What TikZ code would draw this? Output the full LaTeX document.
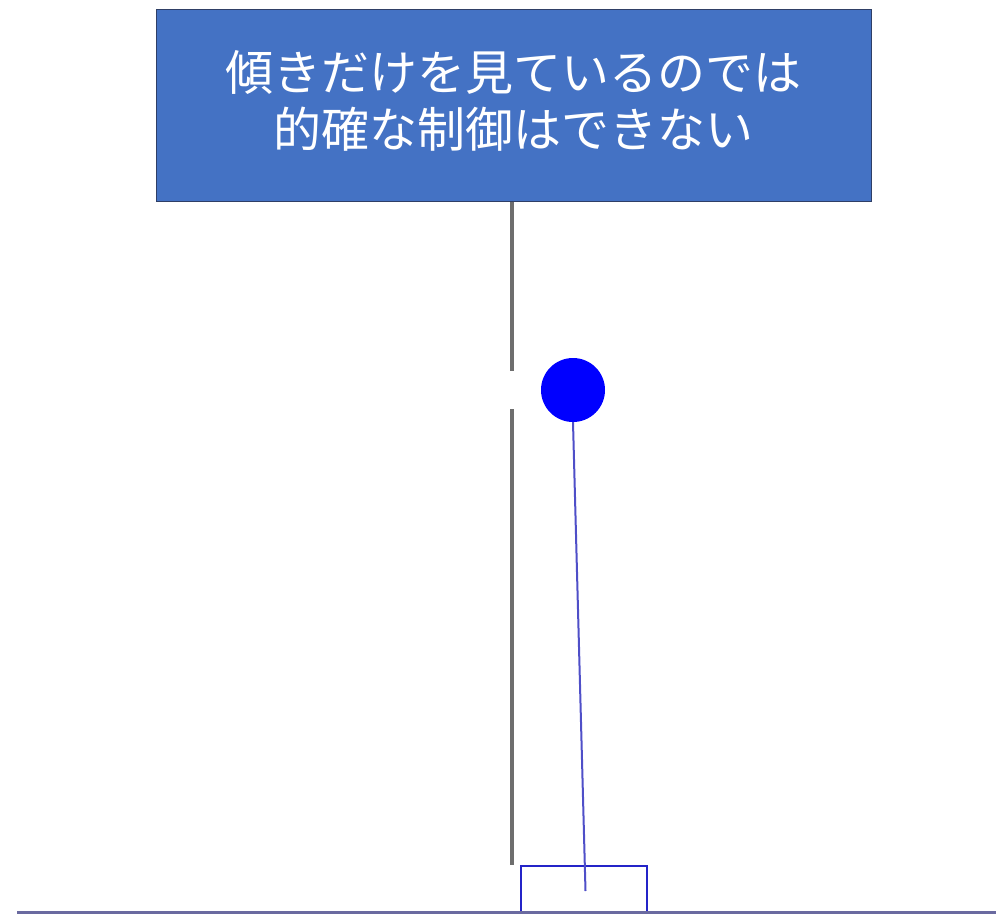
\documentclass[tikz,border=0pt]{standalone}
\usepackage{fontspec}
\newfontfamily\cjk{Noto Sans CJK JP}
\definecolor{boxblue}{HTML}{4472C4}
\definecolor{boxedge}{HTML}{2F3F66}
\definecolor{refgray}{HTML}{6E6E6E}
\definecolor{rodblue}{HTML}{4F4FC8}
\definecolor{cartblue}{HTML}{2424C8}
\definecolor{groundc}{HTML}{6A6AA0}
\begin{document}
\begin{tikzpicture}[x=1pt,y=-1pt,
  msgbox/.style={draw=boxedge,line width=1pt,fill=boxblue,minimum width=715pt,minimum height=192pt,inner sep=0pt,text=white,font=\cjk\fontsize{48}{57}\selectfont,align=center,text depth=12pt},
  ballnode/.style={circle,fill=blue,minimum size=64pt,inner sep=0pt},
  cartnode/.style={draw=cartblue,line width=1.8pt,minimum width=126pt,minimum height=46pt,inner sep=0pt},
  refline/.style={draw=refgray,line width=3.2pt},
  rodline/.style={draw=rodblue,line width=2pt},
  groundline/.style={draw=groundc,line width=2.6pt}]
\useasboundingbox (0,0) rectangle (996,916);
\node[msgbox] (msg) at (513.5,105) {傾きだけを見ているのでは\\的確な制御はできない};
\node[ballnode] (ball) at (573,390) {};
\node[cartnode] (cart) at (584,889) {};
\coordinate (gapTop) at (512,371);
\coordinate (gapBot) at (512,409);
\coordinate (refEnd) at (512,865);
\coordinate (rodEnd) at (585.5,891);
\coordinate (gL) at (17,912.5);
\coordinate (gR) at (996,912.5);
\draw[refline] (msg.south -| gapTop) -- (gapTop);
\draw[refline] (gapBot) -- (refEnd);
\draw[rodline] (ball.south) -- (rodEnd);
\draw[groundline] (gL) -- (gR);
\end{tikzpicture}
\end{document}
